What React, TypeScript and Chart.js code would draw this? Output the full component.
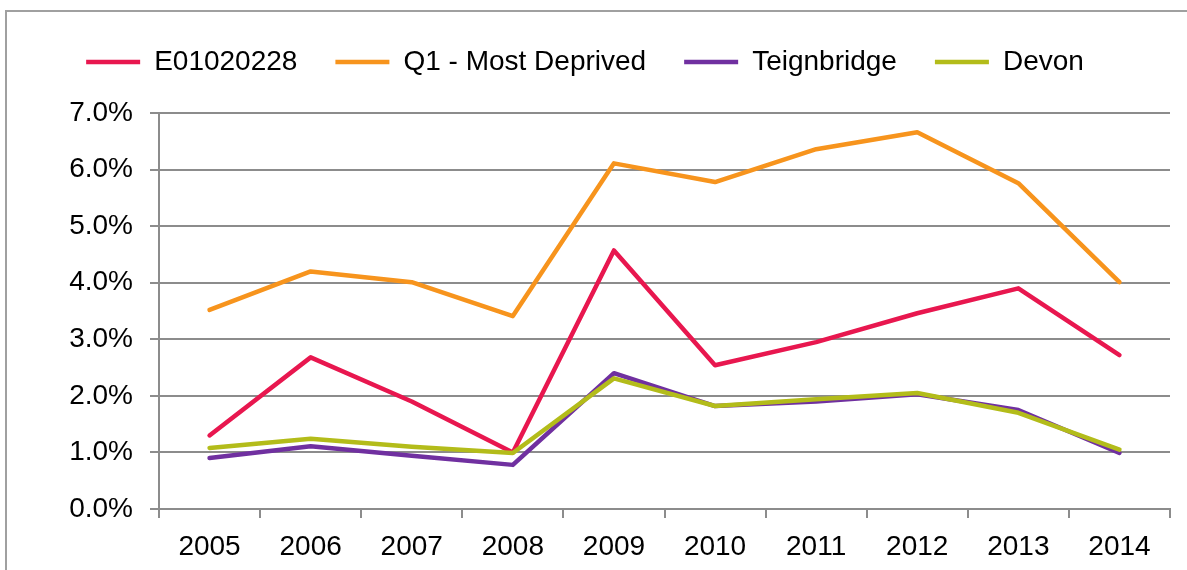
import React, { useEffect, useRef } from "react";
import { Chart, registerables } from "chart.js";

Chart.register(...registerables);

const years = ["2005", "2006", "2007", "2008", "2009", "2010", "2011", "2012", "2013", "2014"];
const e01020228 = [1.3, 2.68, 1.9, 1.0, 4.57, 2.54, 2.95, 3.46, 3.9, 2.72];
const q1MostDeprived = [3.52, 4.2, 4.01, 3.41, 6.11, 5.78, 6.36, 6.66, 5.76, 4.01];
const teignbridge = [0.9, 1.11, 0.94, 0.78, 2.4, 1.82, 1.9, 2.03, 1.75, 0.99];
const devon = [1.08, 1.24, 1.1, 0.99, 2.31, 1.82, 1.94, 2.05, 1.7, 1.05];

const FONT = "'Liberation Sans', Arial, sans-serif";
const GRID = "#8c8c8c";

export default function App() {
  const ref = useRef<HTMLCanvasElement | null>(null);

  useEffect(() => {
    if (!ref.current) return;
    const legendHeight = {
      id: "legendHeight",
      beforeInit(chart: any) {
        const legend = chart.legend;
        if (!legend) return;
        const orig = legend.fit;
        legend.fit = function () {
          orig.call(this);
          this.height = 103;
        };
      },
    };
    const mk = (label: string, data: number[], color: string, order: number) => ({
      label,
      data,
      borderColor: color,
      backgroundColor: color,
      borderWidth: 4.5,
      borderCapStyle: "round" as const,
      borderJoinStyle: "round" as const,
      pointRadius: 0,
      pointHoverRadius: 0,
      tension: 0,
      fill: false,
      order,
    });
    const chart = new Chart(ref.current, {
      type: "line",
      data: {
        labels: years,
        datasets: [
          mk("E01020228", e01020228, "#E8174F", 3),
          mk("Q1 - Most Deprived", q1MostDeprived, "#F7941D", 2),
          mk("Teignbridge", teignbridge, "#7030A0", 1),
          mk("Devon", devon, "#B3BC1A", 0),
        ],
      },
      options: {
        responsive: false,
        devicePixelRatio: 1,
        animation: false,
        layout: { padding: { left: 0, right: 17, top: 10, bottom: 0 } },
        plugins: {
          tooltip: { enabled: false },
          legend: {
            position: "top",
            align: "center",
            labels: {
              usePointStyle: true,
              pointStyle: "line",
              pointStyleWidth: 54,
              boxHeight: 4,
              padding: 38,
              color: "#000",
              font: { family: FONT, size: 28 },
              sort: (a: any, b: any) => a.datasetIndex - b.datasetIndex,
            },
          },
        },
        scales: {
          x: {
            offset: true,
            grid: {
              offset: true,
              drawOnChartArea: false,
              drawTicks: true,
              tickLength: 9,
              color: GRID,
              lineWidth: 2,
            },
            border: { color: GRID, width: 2 },
            ticks: {
              color: "#000",
              font: { family: FONT, size: 28 },
              padding: 12,
              maxRotation: 0,
              autoSkip: false,
            },
            afterFit(scale: any) {
              scale.height = 61;
            },
          },
          y: {
            min: 0,
            max: 7,
            grid: {
              color: GRID,
              lineWidth: 2,
              tickLength: 9,
            },
            border: { color: GRID, width: 2 },
            ticks: {
              stepSize: 1,
              color: "#000",
              font: { family: FONT, size: 28 },
              padding: 17,
              callback: (v: any) => Number(v).toFixed(1) + "%",
            },
            afterFit(scale: any) {
              scale.width = 159;
            },
          },
        },
      },
      plugins: [legendHeight],
    });
    return () => chart.destroy();
  }, []);

  return (
    <div style={{ position: "fixed", left: 0, top: 0, width: 1187, height: 570, background: "#fff", overflow: "hidden" }}>
      <div
        style={{
          position: "absolute",
          left: 5,
          top: 10,
          width: 1300,
          height: 700,
          border: "2px solid #a0a0a0",
          boxSizing: "border-box",
        }}
      />
      <canvas ref={ref} width={1187} height={570} style={{ position: "absolute", left: 0, top: 0, width: 1187, height: 570 }} />
    </div>
  );
}
